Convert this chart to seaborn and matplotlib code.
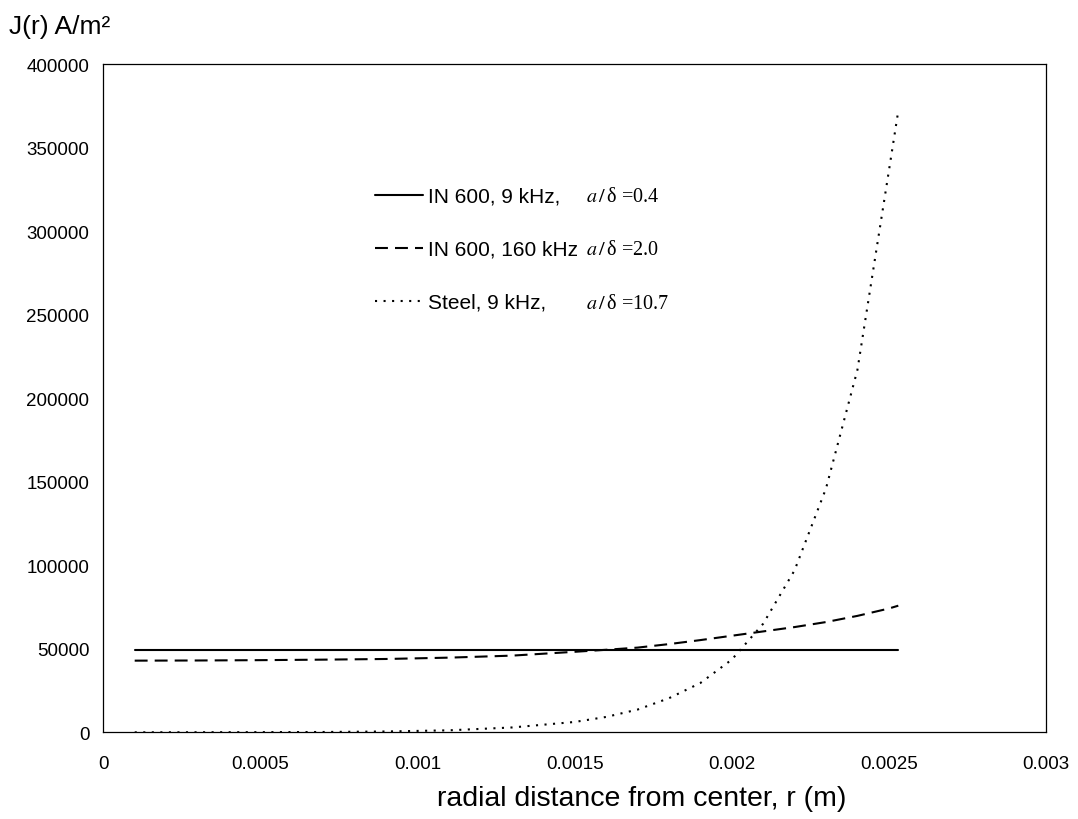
import numpy as np
import pandas as pd
import seaborn as sns
import matplotlib
matplotlib.use("Agg")
import matplotlib.pyplot as plt

# radial position (m) and current density J(r) (A/m^2)
r_m = [0.0001, 0.0003, 0.0005, 0.0007, 0.0009, 0.0011, 0.0013, 0.0015, 0.0016, 0.0017,
       0.0018, 0.0019, 0.0020, 0.0021, 0.0022, 0.0023, 0.0024, 0.0025, 0.00253]
j_in600_9k = [49200, 49200, 49200, 49200, 49200, 49200, 49200, 49200, 49200, 49200,
              49200, 49200, 49200, 49200, 49200, 49200, 49200, 49200, 49200]
j_in600_160k = [42900, 43000, 43200, 43500, 43900, 44700, 45900, 48200, 49400, 50700,
                52800, 55200, 57800, 60400, 63000, 66000, 69700, 74100, 75800]
j_steel_9k = [0, 50, 100, 200, 500, 1200, 2900, 6200, 9200, 13600,
              20400, 29500, 43500, 65000, 97000, 146000, 217000, 336000, 372000]

series_labels = ["IN 600, 9 kHz,", "IN 600, 160 kHz", "Steel, 9 kHz,"]
ratio_labels = ["=0.4", "=2.0", "=10.7"]
x_ticks = [0, 0.0005, 0.001, 0.0015, 0.002, 0.0025, 0.003]
y_ticks = [0, 50000, 100000, 150000, 200000, 250000, 300000, 350000, 400000]

sns.set_theme(style="white")
plt.rcParams["font.family"] = ["Liberation Sans", "DejaVu Sans"]
plt.rcParams["mathtext.fontset"] = "stix"
plt.rcParams["text.color"] = "black"

df = pd.DataFrame({"r": r_m, "a": j_in600_9k, "b": j_in600_160k, "c": j_steel_9k})

fig = plt.figure(figsize=(10.78, 8.2), dpi=100)
ax = fig.add_axes([0.0958, 0.1057, 0.8745, 0.815])

styles = ["-", (0, (6.2, 3.4)), (0, (1, 3.1))]
for col, lab, ls in zip(["a", "b", "c"], series_labels, styles):
    sns.lineplot(data=df, x="r", y=col, ax=ax, color="black", lw=1.5,
                 linestyle=ls, label=lab)

ax.set_xlim(0, 0.003)
ax.set_ylim(0, 400000)
ax.set_xticks(x_ticks)
ax.set_xticklabels([("%g" % t) if t != 0 else "0" for t in x_ticks])
ax.set_yticks(y_ticks)
ax.set_yticklabels([str(t) for t in y_ticks])
ax.tick_params(axis="both", length=0, labelsize=13.5, colors="black")
ax.tick_params(axis="x", pad=16)
ax.tick_params(axis="y", pad=10)
ax.set_xlabel("")
ax.set_ylabel("")
for s in ax.spines.values():
    s.set_color("black")
    s.set_linewidth(0.9)

leg = ax.legend(loc="upper left", bbox_to_anchor=(0.288, 0.816), frameon=False,
                fontsize=15, handlelength=2.3, handletextpad=0.25,
                labelspacing=1.63, borderpad=0, borderaxespad=0)
for t in leg.get_texts():
    t.set_color("black")

row_y = [0.8025, 0.7232, 0.6424]
for y, txt in zip(row_y, ratio_labels):
    ax.text(0.512, y, r"$a\,/\,$" + "δ " + txt, transform=ax.transAxes,
            family="Liberation Serif", fontsize=14.5, va="center", ha="left",
            color="black")

fig.text(0.008, 0.967, "J(r) A/m²", fontsize=19, va="center", ha="left")
fig.text(0.595, 0.026, "radial distance from center, r (m)", fontsize=20.5,
         va="center", ha="center")

fig.savefig("out.png", dpi=100)
